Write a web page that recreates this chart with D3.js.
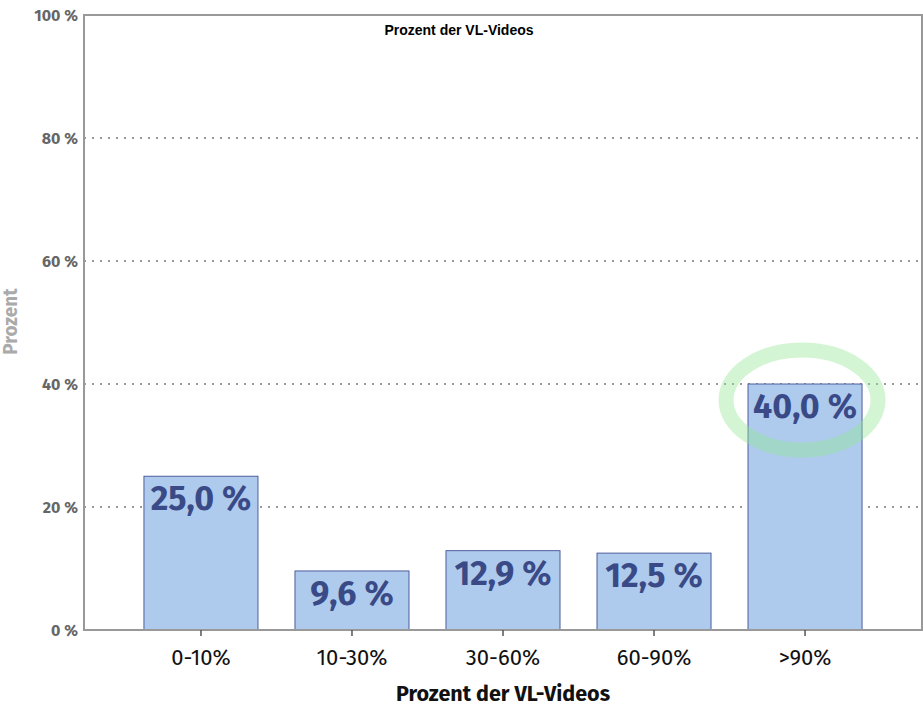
<!DOCTYPE html>
<html>
<head>
<meta charset="utf-8">
<script src="https://cdn.jsdelivr.net/npm/d3@7"></script>
<style>
  body { margin: 0; background: #fff; }
  svg { display: block; }
</style>
</head>
<body>
<svg class="chart"></svg>
<script>
// data
var categories = ["0-10%", "10-30%", "30-60%", "60-90%", ">90%"];
var values = [25.0, 9.6, 12.9, 12.5, 40.0];
var yTicks = [0, 20, 40, 60, 80, 100];
var highlight = ">90%";

var width = 923, height = 707;
var margin = {top: 15, left: 84, right: 1, bottom: 77};
var chartWidth = width - margin.left - margin.right;
var chartHeight = height - margin.top - margin.bottom;

var svg = d3.select(".chart").attr("width", width).attr("height", height);
var g = svg.append("g").attr("transform", "translate(" + [margin.left, margin.top] + ")");

var x = d3.scaleBand()
  .domain(categories)
  .range([0, chartWidth])
  .paddingInner(0.245)
  .paddingOuter(0.397);

var y = d3.scaleLinear().domain([0, 100]).range([chartHeight, 0]);

var fmt = function (v) { return d3.format(".1f")(v).replace(".", ",") + " %"; };
var labelFont = "'Fira Sans', 'Open Sans', sans-serif";

// grid
g.append("g")
  .selectAll("line")
  .data(yTicks.filter(function (d) { return d > 0 && d < 100; }))
  .enter().append("line")
  .attr("x1", 0).attr("x2", chartWidth)
  .attr("y1", function (d) { return y(d); })
  .attr("y2", function (d) { return y(d); })
  .attr("stroke", "#999")
  .attr("stroke-width", 2)
  .attr("stroke-dasharray", "2,6");

// bars
g.append("g")
  .selectAll("rect")
  .data(values)
  .enter().append("rect")
  .attr("x", function (d, i) { return x(categories[i]); })
  .attr("y", function (d) { return y(d); })
  .attr("width", x.bandwidth())
  .attr("height", function (d) { return chartHeight - y(d); })
  .attr("fill", "#aecbee")
  .attr("stroke", "#4e5d9c")
  .attr("stroke-width", 1);

// bar labels
g.append("g")
  .selectAll("text")
  .data(values)
  .enter().append("text")
  .attr("x", function (d, i) { return x(categories[i]) + x.bandwidth() / 2; })
  .attr("y", function (d) { return y(d) + 34; })
  .attr("text-anchor", "middle")
  .attr("font-family", labelFont)
  .attr("font-weight", "bold")
  .attr("font-size", 34)
  .attr("fill", "#3a4a86")
  .text(fmt);

// highlight ring
var hi = categories.indexOf(highlight);
g.append("ellipse")
  .attr("cx", x(highlight) + x.bandwidth() / 2 - 3)
  .attr("cy", y(values[hi]) + 16)
  .attr("rx", 76)
  .attr("ry", 50)
  .attr("fill", "none")
  .attr("stroke", "rgb(144,230,144)")
  .attr("stroke-opacity", 0.4)
  .attr("stroke-width", 15);

// frame
g.append("rect")
  .attr("x", 0).attr("y", 0)
  .attr("width", chartWidth).attr("height", chartHeight)
  .attr("fill", "none")
  .attr("stroke", "#999")
  .attr("stroke-width", 2);

// y axis labels
var yAxis = g.append("g")
  .call(d3.axisLeft(y).tickValues(yTicks).tickSize(0).tickPadding(6).tickFormat(function (d) { return d + " %"; }));
yAxis.select(".domain").remove();
yAxis.selectAll("text")
  .attr("font-family", labelFont)
  .attr("font-weight", "bold")
  .attr("font-size", 16)
  .attr("fill", "#666");

// x axis
var xAxis = g.append("g")
  .attr("transform", "translate(0," + chartHeight + ")")
  .call(d3.axisBottom(x).tickSize(6).tickPadding(13));
xAxis.select(".domain").remove();
xAxis.selectAll("line").attr("stroke", "#555").attr("stroke-width", 1.5);
xAxis.selectAll("text")
  .attr("font-family", labelFont)
  .attr("font-size", 22)
  .attr("fill", "#111");

// titles
svg.append("text")
  .attr("x", margin.left + chartWidth / 2)
  .attr("y", 701)
  .attr("text-anchor", "middle")
  .attr("font-family", labelFont)
  .attr("font-weight", "bold")
  .attr("font-size", 21.5)
  .attr("fill", "#111")
  .text("Prozent der VL-Videos");

svg.append("text")
  .attr("transform", "translate(17," + (margin.top + chartHeight / 2 - 1) + ") rotate(-90)")
  .attr("text-anchor", "middle")
  .attr("font-family", labelFont)
  .attr("font-weight", "bold")
  .attr("font-size", 19)
  .attr("fill", "#aaa")
  .text("Prozent");

svg.append("text")
  .attr("x", 459)
  .attr("y", 35)
  .attr("text-anchor", "middle")
  .attr("font-family", "'Liberation Sans', Arial, sans-serif")
  .attr("font-weight", "bold")
  .attr("font-size", 14)
  .attr("fill", "#000")
  .text("Prozent der VL-Videos");
</script>
</body>
</html>
